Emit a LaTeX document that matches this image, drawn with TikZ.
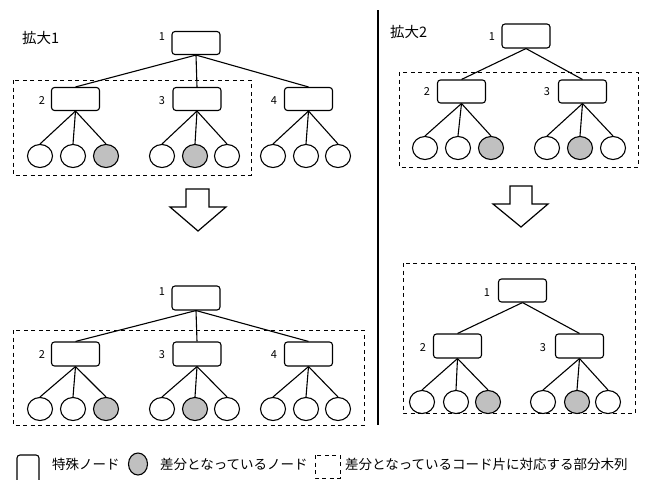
\documentclass[tikz,border=0pt]{standalone}
\usepackage{fontspec}
\setmainfont{Noto Sans CJK JP}
\usetikzlibrary{shapes.geometric}
\definecolor{leafgray}{RGB}{192,192,192}
\begin{document}
\begin{tikzpicture}[x=1pt,y=-1pt,
  sp/.style={draw,rounded corners=3pt,minimum width=48pt,minimum height=23pt,inner sep=0pt,line width=1.1pt},
  lf/.style={draw,ellipse,minimum width=25pt,minimum height=23pt,inner sep=0pt,line width=1.1pt},
  lg/.style={lf,fill=leafgray},
  ed/.style={line width=1.1pt},
  dbox/.style={draw,dash pattern=on 4pt off 3.5pt,line width=1pt},
  num/.style={font=\fontsize{11}{13}\selectfont,inner sep=0pt},
  ttl/.style={font=\fontsize{14.5}{16}\selectfont,inner sep=0pt,anchor=west},
  leg/.style={font=\fontsize{13.5}{16}\selectfont,inner sep=0pt,anchor=west},
  bigarrow/.style={draw,fill=white,line width=1.2pt}]
\useasboundingbox (0,0) rectangle (650,479);

% ---------- top left ----------
\node[ttl] (t1) at (22,38) {拡大1};
\draw[dbox] (13,80) rectangle (251,175);
\node[sp] (a1) at (196,43) {};
\node[sp] (a2) at (75.5,99) {};
\node[sp] (a3) at (197,99) {};
\node[sp] (a4) at (308.5,99) {};
\node[num] (la1) at (162,37) {1};
\node[num] (la2) at (42,101) {2};
\node[num] (la3) at (162,101) {3};
\node[num] (la4) at (274,101) {4};
\foreach \c/\x/\s in {a21/40/lf,a22/73/lf,a23/106/lg,a31/162/lf,a32/195/lg,a33/227/lf,a41/273/lf,a42/306/lf,a43/338/lf}
  \node[\s] (\c) at (\x,156) {};
\foreach \p in {2,3,4} \draw[ed] (a1.south) -- (a\p.north);
\foreach \p in {2,3,4} \foreach \q in {1,2,3} \draw[ed] (a\p.south) -- (a\p\q.north);

% ---------- bottom left ----------
\draw[dbox] (13,330) rectangle (364,425);
\node[sp,minimum height=24pt] (b1) at (196,298) {};
\node[sp,minimum height=24pt] (b2) at (75.5,354) {};
\node[sp,minimum height=24pt] (b3) at (197,354) {};
\node[sp,minimum height=24pt] (b4) at (308.5,354) {};
\node[num] (lb1) at (162,292) {1};
\node[num] (lb2) at (42,355) {2};
\node[num] (lb3) at (162,355) {3};
\node[num] (lb4) at (274,355) {4};
\foreach \c/\x/\s in {b21/40/lf,b22/73/lf,b23/106/lg,b31/162/lf,b32/195/lg,b33/227/lf,b41/273/lf,b42/306/lf,b43/338/lf}
  \node[\s] (\c) at (\x,409) {};
\foreach \p in {2,3,4} \draw[ed] (b1.south) -- (b\p.north);
\foreach \p in {2,3,4} \foreach \q in {1,2,3} \draw[ed] (b\p.south) -- (b\p\q.north);

% ---------- top right ----------
\node[ttl] (t2) at (390,32) {拡大2};
\draw[dbox] (399,72) rectangle (638,167);
\node[sp,minimum height=24pt] (c1) at (526,36) {};
\node[sp] (c2) at (461.5,91.5) {};
\node[sp] (c3) at (582.5,91.5) {};
\node[num] (lc1) at (492,37) {1};
\node[num] (lc2) at (427,92) {2};
\node[num] (lc3) at (547,92) {3};
\foreach \c/\x/\s in {c21/425/lf,c22/458/lf,c23/491/lg,c31/547/lf,c32/580/lg,c33/613/lf}
  \node[\s] (\c) at (\x,148) {};
\foreach \p in {2,3} \draw[ed] (c1.south) -- (c\p.north);
\foreach \p in {2,3} \foreach \q in {1,2,3} \draw[ed] (c\p.south) -- (c\p\q.north);

% ---------- bottom right ----------
\draw[dbox] (403,263) rectangle (635,413);
\node[sp] (d1) at (522.5,290.5) {};
\node[sp,minimum height=24pt] (d2) at (457.5,346) {};
\node[sp,minimum height=24pt] (d3) at (579.5,346) {};
\node[num] (ld1) at (487,293) {1};
\node[num] (ld2) at (423,348) {2};
\node[num] (ld3) at (543,348) {3};
\foreach \c/\x/\s in {d21/422/lf,d22/456/lf,d23/488/lg,d31/543/lf,d32/577/lg,d33/608/lf}
  \node[\s] (\c) at (\x,402) {};
\foreach \p in {2,3} \draw[ed] (d1.south) -- (d\p.north);
\foreach \p in {2,3} \foreach \q in {1,2,3} \draw[ed] (d\p.south) -- (d\p\q.north);

% ---------- arrows and divider ----------
\draw[bigarrow] (186,189) -- (209,189) -- (209,207) -- (226,207) -- (198,231) -- (170,207) -- (186,207) -- cycle;
\draw[bigarrow] (510,186) -- (532,186) -- (532,204) -- (548,204) -- (521,227) -- (493,204) -- (510,204) -- cycle;
\coordinate (vt) at (378,10);
\coordinate (vb) at (378,425);
\draw[line width=1.2pt] (vt) -- (vb);

% ---------- legend ----------
\draw[line width=1.1pt,rounded corners=3pt] (17,481) -- (17,455) -- (39,455) -- (39,481);
\node[leg] (g1) at (52,464) {特殊ノード};
\node[lg,minimum width=19pt,minimum height=22pt] (g2) at (138,464) {};
\node[leg] (g3) at (160,464) {差分となっているノード};
\draw[dbox] (315,455) rectangle (340,478);
\node[leg] (g4) at (345,464) {差分となっているコード片に対応する部分木列};
\end{tikzpicture}
\end{document}
